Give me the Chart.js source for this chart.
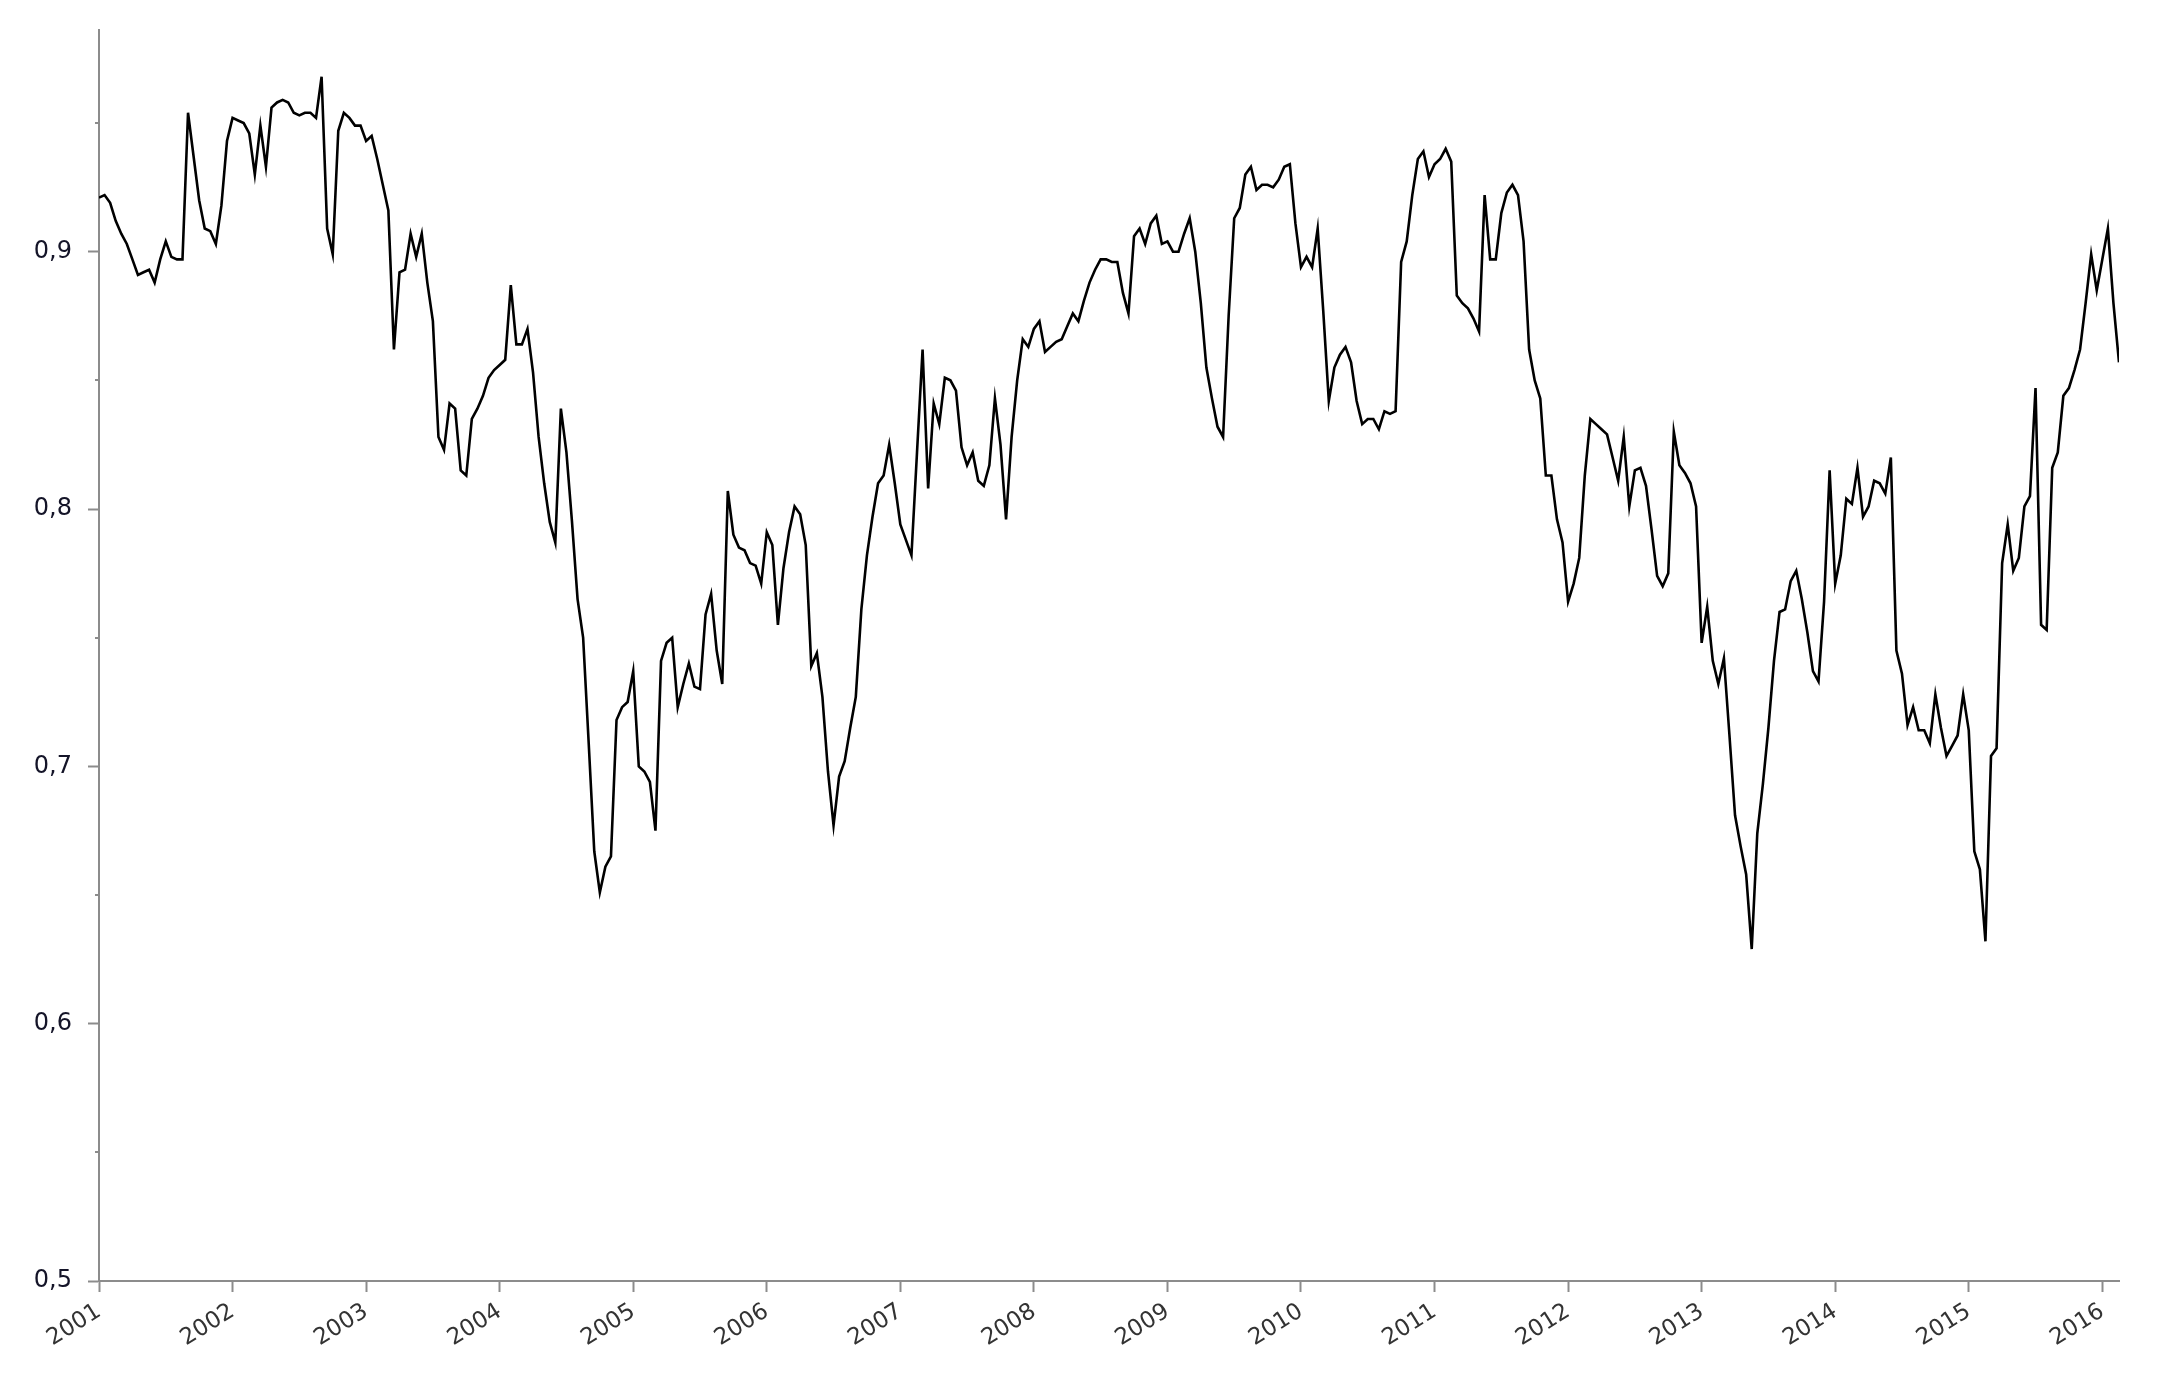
<!DOCTYPE html>
<html>
<head>
<meta charset="utf-8">
<script src="https://cdn.jsdelivr.net/npm/chart.js@4.4.1/dist/chart.umd.min.js"></script>
<style>
  html, body { margin: 0; padding: 0; background: #fff; }
  #wrap { width: 2170px; height: 1388px; }
</style>
</head>
<body>
<div id="wrap"><canvas id="chart" width="2170" height="1388"></canvas></div>
<script>
// semi-monthly readings, Jan 2001 .. early 2016
const startYear = 2001;
const stepsPerYear = 24;

const values = [
  0.921, 0.922, 0.919, 0.912, 0.907, 0.903, 0.897, 0.891, 0.892, 0.893, 0.888, 0.897,
  0.904, 0.898, 0.897, 0.897, 0.954, 0.937, 0.920, 0.909, 0.908, 0.903, 0.918, 0.943,
  0.952, 0.951, 0.950, 0.946, 0.930, 0.949, 0.933, 0.956, 0.958, 0.959, 0.958, 0.954,
  0.953, 0.954, 0.954, 0.952, 0.968, 0.909, 0.899, 0.947, 0.954, 0.952, 0.949, 0.949,
  0.943, 0.945, 0.936, 0.926, 0.916, 0.862, 0.892, 0.893, 0.907, 0.898, 0.907, 0.888,
  0.873, 0.828, 0.823, 0.841, 0.839, 0.815, 0.813, 0.835, 0.839, 0.844, 0.851, 0.854,
  0.856, 0.858, 0.887, 0.864, 0.864, 0.870, 0.853, 0.828, 0.810, 0.795, 0.787, 0.839,
  0.822, 0.795, 0.765, 0.750, 0.709, 0.667, 0.651, 0.661, 0.665, 0.718, 0.723, 0.725,
  0.737, 0.700, 0.698, 0.694, 0.675, 0.741, 0.748, 0.750, 0.723, 0.732, 0.740, 0.731,
  0.730, 0.759, 0.767, 0.745, 0.732, 0.807, 0.790, 0.785, 0.784, 0.779, 0.778, 0.771,
  0.791, 0.786, 0.755, 0.777, 0.791, 0.801, 0.798, 0.786, 0.739, 0.744, 0.727, 0.698,
  0.677, 0.696, 0.702, 0.715, 0.727, 0.761, 0.782, 0.797, 0.810, 0.813, 0.825, 0.810,
  0.794, 0.788, 0.782, 0.822, 0.862, 0.808, 0.841, 0.833, 0.851, 0.850, 0.846, 0.824,
  0.817, 0.822, 0.811, 0.809, 0.817, 0.843, 0.825, 0.796, 0.828, 0.850, 0.866, 0.863,
  0.870, 0.873, 0.861, 0.863, 0.865, 0.866, 0.871, 0.876, 0.873, 0.881, 0.888, 0.893,
  0.897, 0.897, 0.896, 0.896, 0.884, 0.876, 0.906, 0.909, 0.903, 0.911, 0.914, 0.903,
  0.904, 0.900, 0.900, 0.907, 0.913, 0.900, 0.880, 0.855, 0.843, 0.832, 0.828, 0.875,
  0.913, 0.917, 0.930, 0.933, 0.924, 0.926, 0.926, 0.925, 0.928, 0.933, 0.934, 0.911,
  0.894, 0.898, 0.894, 0.909, 0.877, 0.842, 0.855, 0.860, 0.863, 0.857, 0.842, 0.833,
  0.835, 0.835, 0.831, 0.838, 0.837, 0.838, 0.896, 0.904, 0.922, 0.936, 0.939, 0.929,
  0.934, 0.936, 0.940, 0.935, 0.883, 0.880, 0.878, 0.874, 0.869, 0.922, 0.897, 0.897,
  0.915, 0.923, 0.926, 0.922, 0.904, 0.862, 0.850, 0.843, 0.813, 0.813, 0.796, 0.787,
  0.764, 0.771, 0.781, 0.813, 0.835, 0.833, 0.831, 0.829, 0.820, 0.811, 0.828, 0.801,
  0.815, 0.816, 0.809, 0.792, 0.774, 0.770, 0.775, 0.830, 0.817, 0.814, 0.810, 0.801,
  0.748, 0.762, 0.741, 0.732, 0.742, 0.712, 0.681, 0.669, 0.658, 0.629, 0.674, 0.693,
  0.715, 0.741, 0.760, 0.761, 0.772, 0.776, 0.765, 0.752, 0.737, 0.733, 0.764, 0.815,
  0.771, 0.782, 0.804, 0.802, 0.816, 0.797, 0.801, 0.811, 0.810, 0.806, 0.820, 0.745,
  0.736, 0.716, 0.723, 0.714, 0.714, 0.709, 0.728, 0.715, 0.704, 0.708, 0.712, 0.728,
  0.714, 0.667, 0.660, 0.632, 0.704, 0.707, 0.779, 0.794, 0.776, 0.781, 0.801, 0.805,
  0.847, 0.755, 0.753, 0.816, 0.822, 0.844, 0.847, 0.854, 0.862, 0.880, 0.899, 0.885,
  0.897, 0.909, 0.880, 0.857
];

const yearTicks = [2001, 2002, 2003, 2004, 2005, 2006, 2007, 2008,
                   2009, 2010, 2011, 2012, 2013, 2014, 2015, 2016];
const yMajor = [0.5, 0.6, 0.7, 0.8, 0.9];
const yMinor = [0.55, 0.65, 0.75, 0.85, 0.95];

const points = values.map((v, i) => ({ x: startYear + i / stepsPerYear, y: v }));

const axisGrey = '#8c8c8c';

// short minor tick marks on the value axis
const minorTickPlugin = {
  id: 'minorTicks',
  afterDraw(chart) {
    const y = chart.scales.y;
    const ctx = chart.ctx;
    ctx.save();
    ctx.strokeStyle = axisGrey;
    ctx.lineWidth = 2;
    yMinor.forEach(v => {
      const py = Math.round(y.getPixelForValue(v));
      ctx.beginPath();
      ctx.moveTo(y.right - 4, py);
      ctx.lineTo(y.right, py);
      ctx.stroke();
    });
    ctx.restore();
  }
};

new Chart(document.getElementById('chart'), {
  type: 'line',
  data: {
    datasets: [{
      data: points,
      borderColor: '#000',
      borderWidth: 2.6,
      pointRadius: 0,
      tension: 0,
      fill: false
    }]
  },
  options: {
    responsive: false,
    animation: false,
    layout: { padding: { top: 15, right: 51, left: 0, bottom: 0 } },
    plugins: { legend: { display: false }, tooltip: { enabled: false } },
    scales: {
      x: {
        type: 'linear',
        min: startYear,
        max: startYear + (values.length - 1) / stepsPerYear,
        afterBuildTicks: s => { s.ticks = yearTicks.map(v => ({ value: v })); },
        afterFit: s => { s.height = 107; },
        border: { color: axisGrey, width: 2 },
        grid: { drawOnChartArea: false, color: axisGrey, tickLength: 11, tickWidth: 2 },
        ticks: {
          minRotation: 32, maxRotation: 32,
          padding: 6,
          color: '#333',
          font: { family: 'DejaVu Sans', size: 23 },
          callback: v => String(v)
        }
      },
      y: {
        min: 0.5,
        max: 0.986,
        afterBuildTicks: s => { s.ticks = yMajor.map(v => ({ value: v })); },
        afterFit: s => { s.width = 99; },
        border: { color: axisGrey, width: 2 },
        grid: { drawOnChartArea: false, color: axisGrey, tickLength: 11, tickWidth: 2 },
        ticks: {
          padding: 16,
          color: '#141428',
          font: { family: 'DejaVu Sans', size: 24 },
          callback: v => v.toFixed(1).replace('.', ',')
        }
      }
    }
  },
  plugins: [minorTickPlugin]
});
</script>
</body>
</html>
